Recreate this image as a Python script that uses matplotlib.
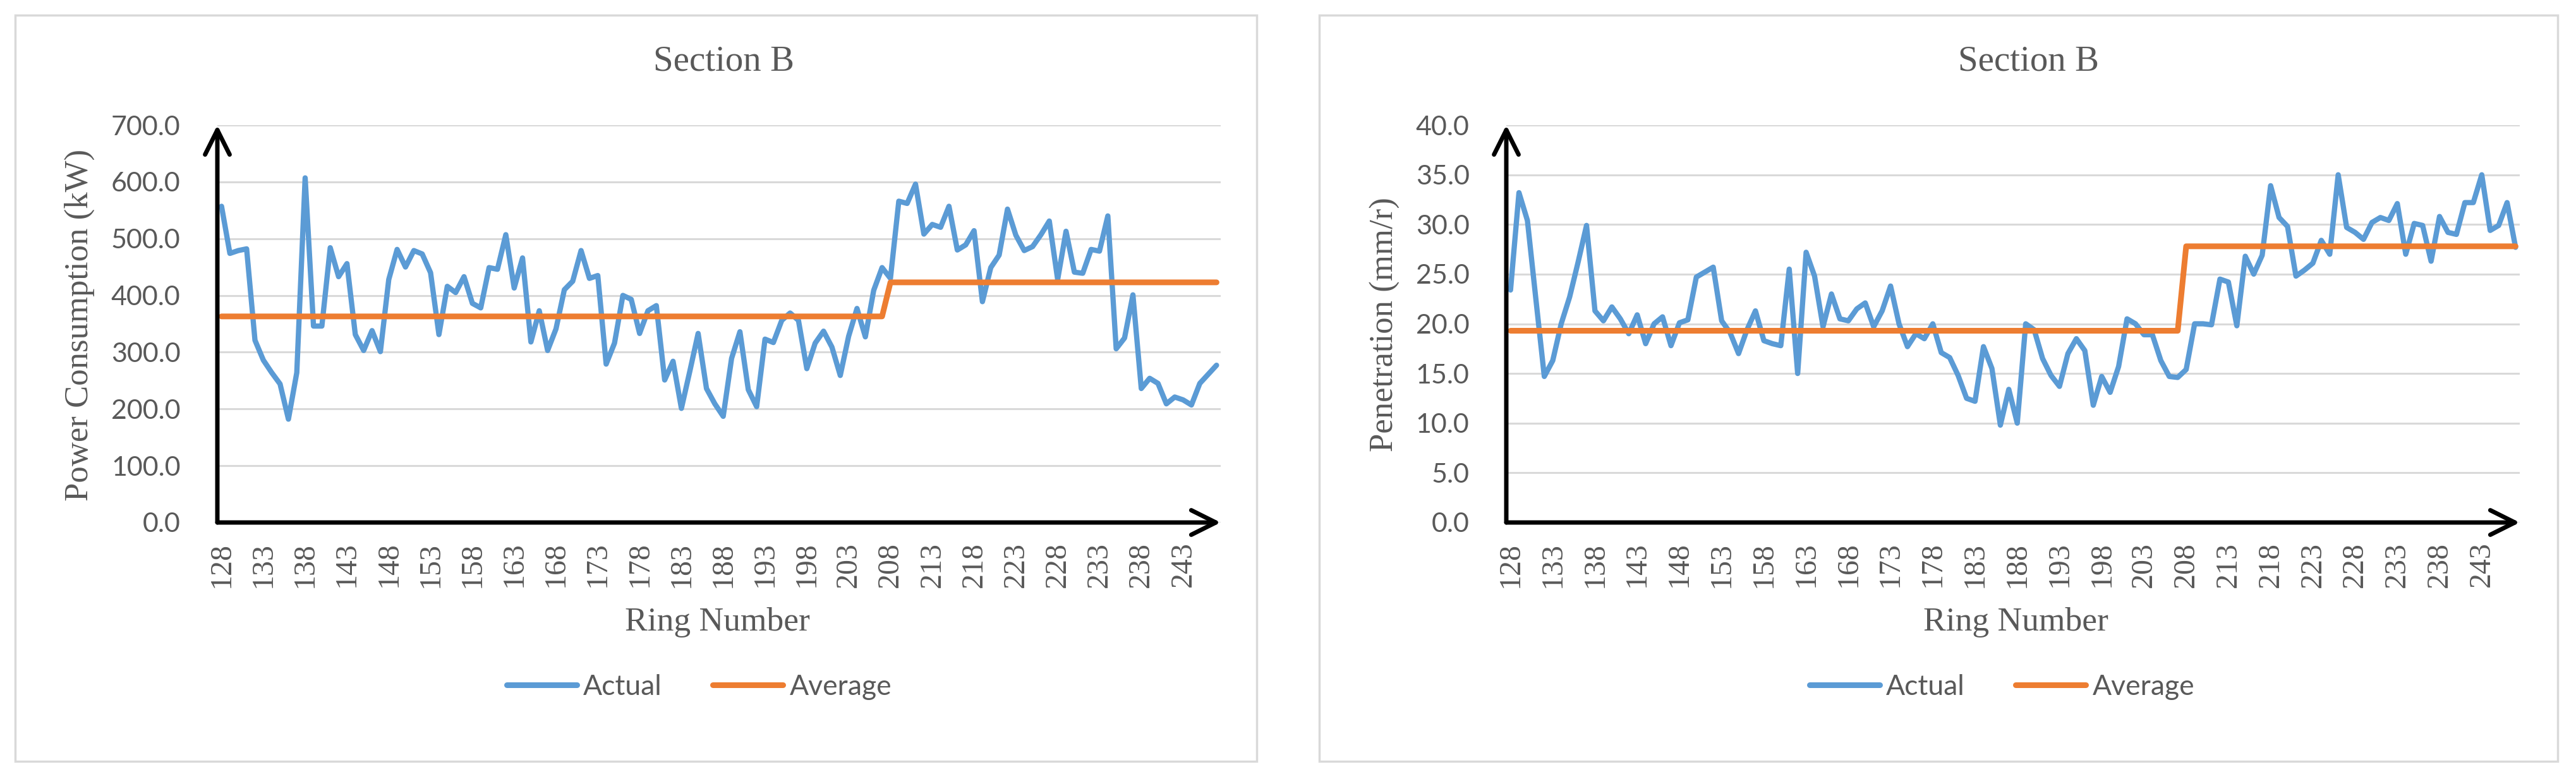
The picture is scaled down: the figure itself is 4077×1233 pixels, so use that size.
import numpy as np
import matplotlib
matplotlib.use('Agg')
from matplotlib import pyplot as plt
from matplotlib.patches import Rectangle
from matplotlib.lines import Line2D

#--data--------------------------------------------------------------------
rings = list(range(128, 248))
tick_rings = list(range(128, 248, 5))

power_actual = [
    557, 474, 479, 482, 321, 286, 264, 244, 182, 264,
    607, 346, 346, 484, 433, 456, 331, 303, 338, 301,
    428, 481, 450, 479, 473, 440, 331, 416, 405, 433,
    386, 378, 449, 446, 507, 413, 466, 318, 373, 303,
    341, 410, 425, 479, 430, 435, 279, 316, 400, 393,
    333, 373, 382, 251, 284, 201, 266, 333, 236, 209,
    187, 289, 336, 234, 204, 323, 317, 356, 369, 356,
    271, 316, 337, 309, 259, 328, 377, 327, 409, 449,
    430, 566, 562, 596, 508, 525, 520, 557, 480, 489,
    514, 389, 449, 471, 552, 506, 479, 486, 507, 531,
    428, 513, 441, 439, 481, 478, 540, 306, 325, 401,
    236, 254, 245, 209, 221, 216, 207, 245, 261, 277,
]

penetration_actual = [
    23.4, 33.2, 30.4, 22.5, 14.7, 16.3, 20.0, 22.7, 26.2, 29.9,
    21.3, 20.3, 21.7, 20.5, 19.0, 20.9, 18.0, 20.0, 20.7, 17.8,
    20.1, 20.4, 24.7, 25.2, 25.7, 20.3, 19.1, 17.0, 19.4, 21.3,
    18.3, 18.0, 17.8, 25.5, 15.0, 27.2, 24.8, 19.7, 23.0, 20.5,
    20.3, 21.5, 22.1, 19.7, 21.3, 23.8, 20.0, 17.7, 19.0, 18.5,
    20.0, 17.1, 16.6, 14.8, 12.5, 12.2, 17.7, 15.5, 9.8, 13.4,
    10.0, 20.0, 19.4, 16.5, 14.8, 13.7, 17.0, 18.5, 17.3, 11.8,
    14.7, 13.1, 15.7, 20.5, 20.0, 18.9, 18.9, 16.3, 14.7, 14.6,
    15.4, 20.0, 20.0, 19.9, 24.5, 24.2, 19.8, 26.8, 25.0, 26.9,
    33.9, 30.7, 29.8, 24.8, 25.4, 26.1, 28.4, 27.0, 35.0, 29.7,
    29.2, 28.5, 30.2, 30.7, 30.4, 32.1, 27.0, 30.1, 29.9, 26.3,
    30.8, 29.2, 29.0, 32.2, 32.2, 35.0, 29.4, 29.9, 32.2, 27.7,
]

# average levels before / from the break ring
avg_break_ring = 208
power_avg_levels = [363.0, 423.0]
penetration_avg_levels = [19.3, 27.8]

#--style--------------------------------------------------------------------
W, H = 4077, 1233
blue = '#5B9BD5'
orange = '#ED7D31'
grey_txt = '#595959'
grid_col = '#D9D9D9'
serif = 'Liberation Serif'
sans = 'Lato'

fig = plt.figure(figsize=(W / 100, H / 100), dpi=100)


def px_box(left, top, right, bottom):
    return [left / W, 1 - bottom / H, (right - left) / W, (bottom - top) / H]


def step_average(levels):
    r = np.array(rings)
    return np.where(r < avg_break_ring, levels[0], levels[1])


def draw_panel(box, frame, actual, levels, ymax, ystep, ylabel, dx):
    # frame around the chart
    fl, ft, fr, fb = frame
    fig.add_artist(Rectangle((fl / W, 1 - fb / H), (fr - fl) / W, (fb - ft) / H,
                             transform=fig.transFigure, fill=False,
                             ec=grid_col, lw=2.5))

    ax = fig.add_axes(px_box(*box))
    ax.plot(rings, actual, color=blue, lw=6, solid_joinstyle='round',
            solid_capstyle='round', clip_on=False, zorder=3)
    ax.plot(rings, step_average(levels), color=orange, lw=6.5,
            solid_joinstyle='round', solid_capstyle='round', clip_on=False, zorder=4)

    ax.set_xlim(127.5, 247.5)
    ax.set_ylim(0, ymax)
    ax.set_yticks(np.arange(0, ymax + ystep / 2, ystep))
    ax.set_yticklabels(['%.1f' % v for v in np.arange(0, ymax + ystep / 2, ystep)],
                       family=sans, fontsize=31, color=grey_txt)
    ax.set_xticks(tick_rings)
    ax.set_xticklabels([str(t) for t in tick_rings], rotation=90,
                       family=serif, fontsize=34.5, color=grey_txt)
    ax.tick_params(axis='y', length=0, pad=42)
    ax.tick_params(axis='x', length=0, pad=22)

    for s in ax.spines.values():
        s.set_visible(False)
    ax.yaxis.grid(True, color=grid_col, lw=2.2)
    ax.set_axisbelow(True)

    # arrow axes
    arrow = dict(arrowstyle='->', lw=5, color='black', shrinkA=0, shrinkB=0,
                 mutation_scale=70)
    ax.annotate('', xy=(1, 0), xytext=(0, 0), xycoords='axes fraction',
                arrowprops=arrow, annotation_clip=False, zorder=5)
    ax.annotate('', xy=(0, 1.0), xytext=(0, 0), xycoords='axes fraction',
                arrowprops=arrow, annotation_clip=False, zorder=5)

    # texts
    fig.text((1145 + dx[0]) / W, 1 - 112 / H, 'Section B', ha='center', va='baseline',
             family=serif, fontsize=41, color=grey_txt)
    fig.text((126 + dx[1]) / W, 1 - 514 / H, ylabel, rotation=90, ha='center',
             va='center', family=serif, fontsize=38, color=grey_txt)
    fig.text((1135 + dx[2]) / W, 1 - 998 / H, 'Ring Number', ha='center',
             va='baseline', family=serif, fontsize=38.5, color=grey_txt)

    handles = [Line2D([], [], color=blue, lw=6.5, solid_capstyle='round'),
               Line2D([], [], color=orange, lw=6.5, solid_capstyle='round')]
    ax.legend(handles, ['Actual', 'Average'], loc='center left',
              bbox_to_anchor=((802 + dx[3]) / W, 1 - 1087 / H),
              bbox_transform=fig.transFigure, ncol=2, frameon=False,
              borderpad=0, borderaxespad=0, handlelength=2.5,
              handletextpad=0.23, columnspacing=1.8,
              prop=dict(family=sans, size=32), labelcolor=grey_txt)
    return ax


draw_panel((344, 198, 1932, 827), (24, 24, 1989, 1205), power_actual,
           power_avg_levels, 700, 100, 'Power Consumption (kW)', (0, 0, 0, 0))
draw_panel((2384, 198, 3988, 827), (2088, 24, 4048, 1205), penetration_actual,
           penetration_avg_levels, 40, 5, 'Penetration (mm/r)', (2065, 2066, 2055, 2062))

fig.savefig('out.png', dpi=100, facecolor='white')
